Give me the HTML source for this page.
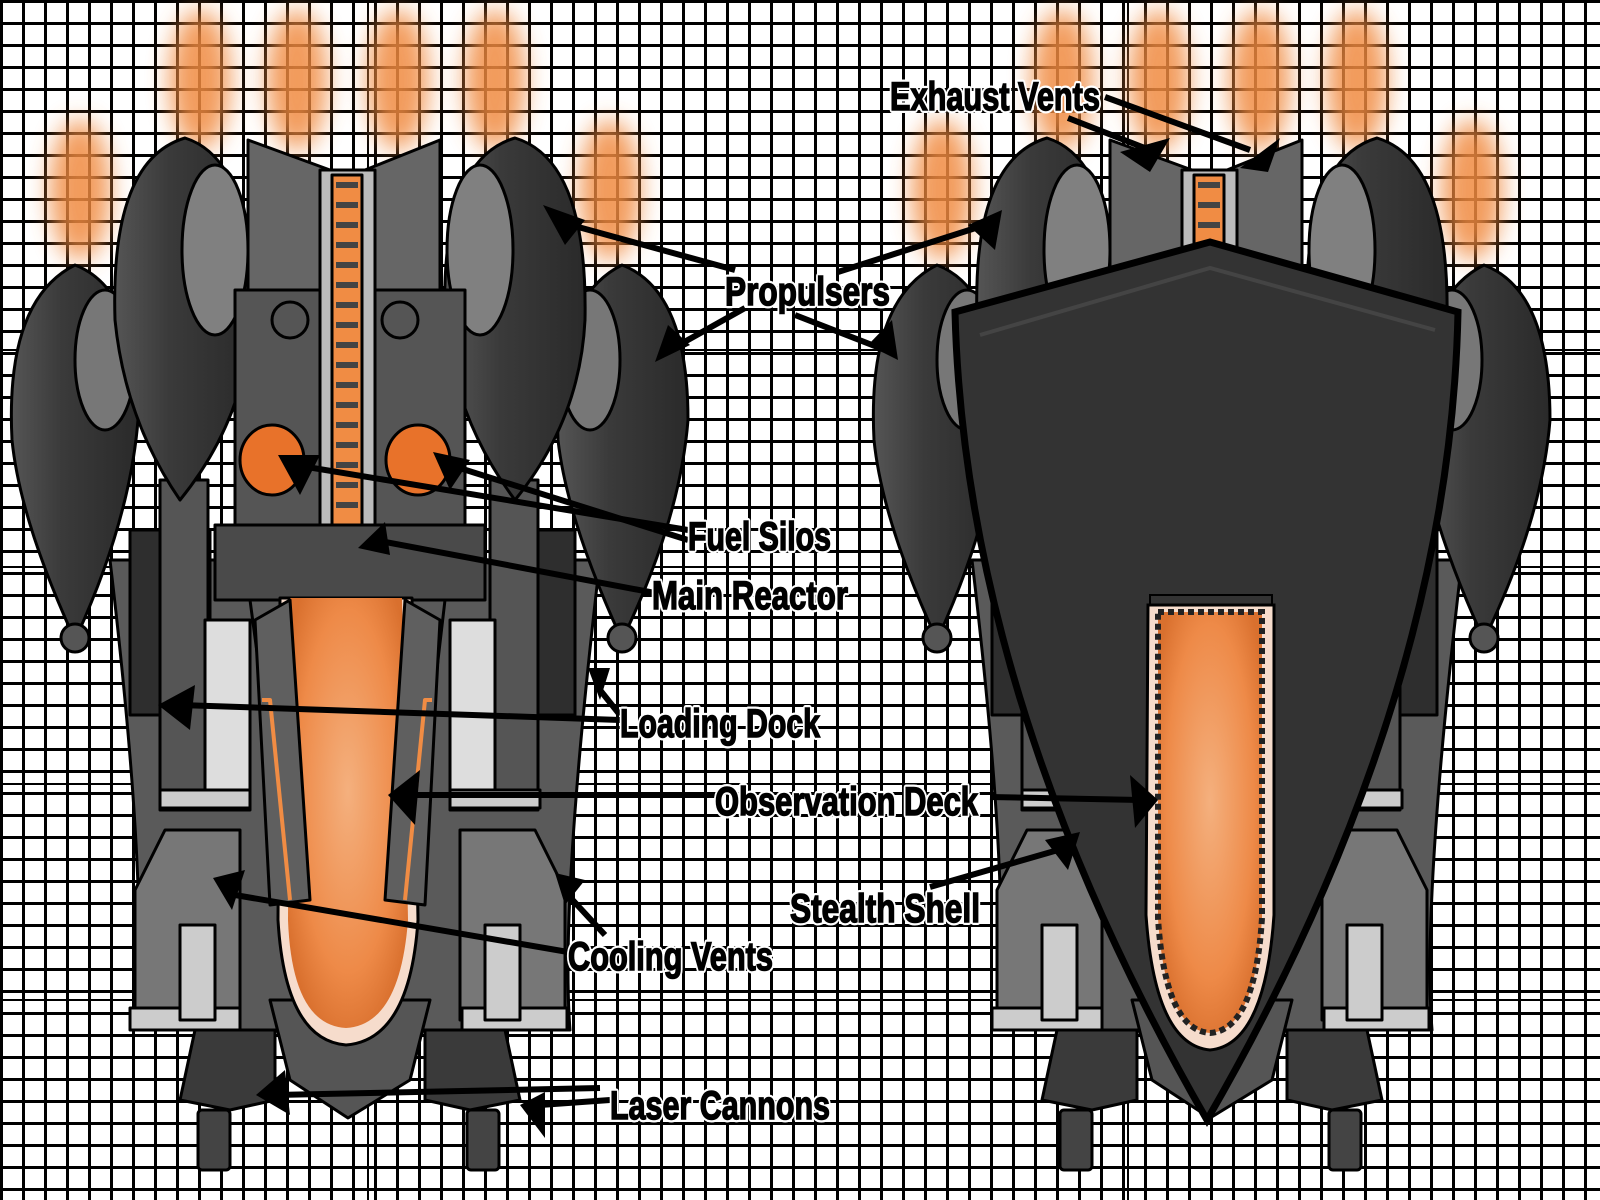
<!DOCTYPE html>
<html><head><meta charset="utf-8"><style>
html,body{margin:0;padding:0;background:#fff;}
svg{display:block;}
.lbl{font-family:"Liberation Sans Narrow","Liberation Sans",sans-serif;font-weight:bold;font-size:40px;fill:#000;stroke:#fff;stroke-width:6px;paint-order:stroke;stroke-linejoin:round;}
.lbk{font-family:"Liberation Sans Narrow","Liberation Sans",sans-serif;font-weight:bold;font-size:40px;fill:#000;stroke:#000;stroke-width:1.5px;}
</style></head><body>
<svg width="1600" height="1200" viewBox="0 0 1600 1200" xmlns="http://www.w3.org/2000/svg">
<defs>
<pattern id="g" x="0" y="0" width="22" height="22" patternUnits="userSpaceOnUse">
<path d="M0 1.5H22M1.5 0V22" stroke="#000" stroke-width="3" fill="none"/>
</pattern>
<filter id="bl" x="-1" y="-1" width="3" height="3"><feGaussianBlur stdDeviation="12"/></filter>
<radialGradient id="og" cx="0.5" cy="0.45" r="0.6"><stop offset="0" stop-color="#f4b07e"/><stop offset="0.7" stop-color="#ee8a48"/><stop offset="1" stop-color="#d9702e"/></radialGradient>
<linearGradient id="pod" x1="0" x2="1"><stop offset="0" stop-color="#555"/><stop offset="0.4" stop-color="#3a3a3a"/><stop offset="1" stop-color="#2a2a2a"/></linearGradient>
<g id="glows" fill="#f08a40" opacity="0.85" filter="url(#bl)">
<ellipse cx="80" cy="190" rx="30" ry="70"/><ellipse cx="200" cy="80" rx="30" ry="70"/>
<ellipse cx="297" cy="80" rx="30" ry="70"/><ellipse cx="398" cy="80" rx="30" ry="70"/>
<ellipse cx="495" cy="80" rx="30" ry="70"/><ellipse cx="610" cy="190" rx="30" ry="70"/>
</g>
<g id="ship" stroke="#000" stroke-width="3" stroke-linejoin="round">
<path d="M110 560 Q150 900 135 1030 L570 1030 Q560 900 600 560 Z" fill="#5a5a5a"/>
<path d="M165 830 L240 830 L240 1020 L135 1020 L135 890 Z" fill="#777"/>
<path d="M460 830 L535 830 L565 890 L565 1020 L460 1020 Z" fill="#777"/>
<rect x="130" y="1008" width="110" height="22" fill="#ccc"/>
<rect x="462" y="1008" width="105" height="22" fill="#ccc"/>
<rect x="180" y="925" width="35" height="95" fill="#ccc"/><rect x="485" y="925" width="35" height="95" fill="#ccc"/>
<path d="M195 1030 L275 1030 L275 1100 L230 1110 L180 1100 Z" fill="#3a3a3a"/>
<path d="M425 1030 L505 1030 L520 1100 L470 1110 L425 1100 Z" fill="#3a3a3a"/>
<rect x="198" y="1110" width="32" height="60" rx="4" fill="#444"/>
<rect x="467" y="1110" width="32" height="60" rx="4" fill="#444"/>
<path d="M270 1000 L430 1000 L410 1080 L348 1118 L290 1080 Z" fill="#555"/>
<rect x="130" y="530" width="80" height="185" fill="#2e2e2e"/>
<rect x="500" y="530" width="75" height="185" fill="#2e2e2e"/>
<rect x="160" y="480" width="48" height="330" fill="#555"/>
<rect x="490" y="480" width="48" height="330" fill="#555"/>
<rect x="205" y="620" width="45" height="190" fill="#ddd"/>
<rect x="450" y="620" width="45" height="190" fill="#ddd"/>
<rect x="160" y="790" width="90" height="18" fill="#ccc"/><rect x="450" y="790" width="90" height="18" fill="#ccc"/>
<path d="M75 640 Q20 520 12 440 Q5 300 75 265 Q140 290 138 420 Q130 520 75 640 Z" fill="url(#pod)"/>
<ellipse cx="105" cy="360" rx="30" ry="70" fill="#777"/>
<path d="M622 640 Q567 520 558 440 Q552 300 622 265 Q688 290 688 420 Q680 520 622 640 Z" fill="url(#pod)"/>
<ellipse cx="590" cy="360" rx="30" ry="70" fill="#777"/>
<circle cx="75" cy="638" r="14" fill="#555"/><circle cx="622" cy="638" r="14" fill="#555"/>
<path d="M180 500 Q125 420 115 320 Q110 160 185 138 Q255 160 252 320 Q245 420 180 500 Z" fill="url(#pod)"/>
<ellipse cx="215" cy="250" rx="33" ry="85" fill="#808080"/>
<path d="M515 500 Q455 420 445 320 Q440 160 515 138 Q588 160 585 320 Q580 420 515 500 Z" fill="url(#pod)"/>
<ellipse cx="480" cy="250" rx="33" ry="85" fill="#808080"/>
<path d="M248 140 L330 170 L330 540 L248 540 Z" fill="#666"/>
<path d="M440 140 L365 170 L365 540 L440 540 Z" fill="#666"/>
<rect x="235" y="290" width="230" height="260" fill="#555"/>
<rect x="320" y="170" width="55" height="440" fill="#bbb"/>
<rect x="332" y="175" width="30" height="360" fill="#f08c44"/>
<path d="M336 185h22M336 205h22M336 225h22M336 245h22M336 265h22M336 285h22M336 305h22M336 325h22M336 345h22M336 365h22M336 385h22M336 405h22M336 425h22M336 445h22M336 465h22M336 485h22M336 505h22" stroke="#444" stroke-width="6"/>
<circle cx="290" cy="320" r="18" fill="#555"/><circle cx="400" cy="320" r="18" fill="#555"/>
<ellipse cx="272" cy="460" rx="32" ry="35" fill="#e8722a"/>
<ellipse cx="418" cy="460" rx="32" ry="35" fill="#e8722a"/>
<rect x="215" y="525" width="270" height="75" fill="#4a4a4a"/>
<path d="M250 600 L445 600 L410 900 L290 900 Z" fill="#5a5a5a"/>
<path d="M280 598 L412 598 L418 920 Q410 1040 346 1045 Q285 1040 278 920 Z" fill="#f6dccc"/>
<path d="M290 598 L402 598 L408 920 Q400 1025 346 1028 Q292 1025 288 920 Z" fill="url(#og)" stroke="none"/>
<path d="M255 620 L290 600 L310 900 L270 905 Z" fill="#5f5f5f"/>
<path d="M440 620 L405 600 L385 900 L425 905 Z" fill="#5f5f5f"/>
<path d="M262 700 L270 700 L290 900" stroke="#f08c44" stroke-width="4" fill="none"/>
<path d="M432 700 L425 700 L405 900" stroke="#f08c44" stroke-width="4" fill="none"/>
</g>
</defs>
<rect width="1600" height="1200" fill="url(#g)"/>
<path d="M0 134H1600M0 350H1600M0 567H1600M0 784H1600M0 1000H1600M368 0V1200M1128 0V1200" stroke="#000" stroke-width="2"/>
<use href="#glows"/>
<use href="#glows" transform="translate(862,0)"/>
<use href="#ship"/>
<use href="#ship" transform="translate(862,0)"/>
<path d="M955 312 L1210 242 L1458 312 Q1450 700 1207 1120 Q965 700 955 312 Z" fill="#333" stroke="#000" stroke-width="7"/>
<path d="M980 335 L1210 268 L1435 330" stroke="#444" stroke-width="4" fill="none"/>
<rect x="1150" y="595" width="122" height="20" fill="#333" stroke="#000" stroke-width="2"/>
<path d="M1148 605 L1274 605 L1274 915 Q1265 1045 1210 1050 Q1155 1045 1146 915 Z" fill="#f6dccc" stroke="#000" stroke-width="3"/>
<path d="M1158 612 L1262 612 L1262 918 Q1255 1030 1210 1033 Q1165 1030 1158 918 Z" fill="url(#og)" stroke="#222" stroke-width="6" stroke-dasharray="6 4"/>
<g stroke="#000" stroke-width="6" fill="none">
<line x1="1068" y1="118" x2="1150" y2="150"/><line x1="1105" y1="97" x2="1250" y2="150"/>
<line x1="735" y1="270" x2="560" y2="222"/><line x1="745" y1="308" x2="670" y2="350"/>
<line x1="838" y1="272" x2="985" y2="225"/><line x1="795" y1="315" x2="885" y2="350"/>
<line x1="688" y1="530" x2="295" y2="465"/><line x1="688" y1="540" x2="450" y2="465"/>
<line x1="655" y1="593" x2="375" y2="540"/>
<line x1="620" y1="720" x2="180" y2="705"/><line x1="620" y1="715" x2="600" y2="690"/>
<line x1="715" y1="795" x2="410" y2="795"/><line x1="990" y1="797" x2="1140" y2="800"/>
<line x1="930" y1="887" x2="1065" y2="848"/>
<line x1="568" y1="952" x2="235" y2="895"/><line x1="605" y1="935" x2="568" y2="895"/>
<line x1="600" y1="1088" x2="275" y2="1095"/><line x1="610" y1="1100" x2="540" y2="1105"/>
</g>
<g fill="#000">
<polygon points="1170,138 1120,152 1150,172"/><polygon points="1280,138 1240,168 1268,172"/>
<polygon points="543,205 585,220 565,245"/><polygon points="655,362 668,325 690,345"/>
<polygon points="1002,210 968,225 995,250"/><polygon points="898,360 868,345 892,320"/>
<polygon points="278,455 320,455 300,495"/><polygon points="433,452 470,460 450,490"/>
<polygon points="358,548 385,522 390,555"/>
<polygon points="158,705 195,685 190,730"/><polygon points="588,668 610,668 600,700"/>
<polygon points="388,795 420,770 415,825"/><polygon points="1158,800 1130,775 1135,828"/>
<polygon points="1080,832 1045,840 1068,870"/>
<polygon points="213,878 245,870 232,910"/><polygon points="555,873 585,880 565,905"/>
<polygon points="256,1095 285,1070 290,1115"/><polygon points="545,1138 520,1105 545,1092"/>
</g>
<g class="lbl">
<text x="890" y="110" textLength="210" lengthAdjust="spacingAndGlyphs">Exhaust Vents</text>
<text x="725" y="305" textLength="165" lengthAdjust="spacingAndGlyphs">Propulsers</text>
<text x="688" y="550" textLength="143" lengthAdjust="spacingAndGlyphs">Fuel Silos</text>
<text x="652" y="609" textLength="196" lengthAdjust="spacingAndGlyphs">Main Reactor</text>
<text x="620" y="737" textLength="200" lengthAdjust="spacingAndGlyphs">Loading Dock</text>
<text x="715" y="815" textLength="263" lengthAdjust="spacingAndGlyphs">Observation Deck</text>
<text x="790" y="922" textLength="190" lengthAdjust="spacingAndGlyphs">Stealth Shell</text>
<text x="568" y="970" textLength="205" lengthAdjust="spacingAndGlyphs">Cooling Vents</text>
<text x="610" y="1119" textLength="220" lengthAdjust="spacingAndGlyphs">Laser Cannons</text>
</g>
<g class="lbk">
<text x="890" y="110" textLength="210" lengthAdjust="spacingAndGlyphs">Exhaust Vents</text>
<text x="725" y="305" textLength="165" lengthAdjust="spacingAndGlyphs">Propulsers</text>
<text x="688" y="550" textLength="143" lengthAdjust="spacingAndGlyphs">Fuel Silos</text>
<text x="652" y="609" textLength="196" lengthAdjust="spacingAndGlyphs">Main Reactor</text>
<text x="620" y="737" textLength="200" lengthAdjust="spacingAndGlyphs">Loading Dock</text>
<text x="715" y="815" textLength="263" lengthAdjust="spacingAndGlyphs">Observation Deck</text>
<text x="790" y="922" textLength="190" lengthAdjust="spacingAndGlyphs">Stealth Shell</text>
<text x="568" y="970" textLength="205" lengthAdjust="spacingAndGlyphs">Cooling Vents</text>
<text x="610" y="1119" textLength="220" lengthAdjust="spacingAndGlyphs">Laser Cannons</text>
</g>
</svg>
</body></html>
